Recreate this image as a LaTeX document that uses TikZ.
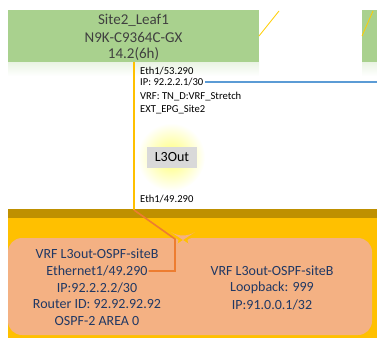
\documentclass[tikz,border=0pt]{standalone}
\usepackage{fontspec}
\setmainfont{Carlito}
\definecolor{leafgreen}{HTML}{A9D18E}
\definecolor{leaftext}{HTML}{404040}
\definecolor{gold}{HTML}{FFC000}
\definecolor{darkgold}{HTML}{BF9000}
\definecolor{salmon}{HTML}{F4B183}
\definecolor{navy}{HTML}{203864}
\definecolor{linkblue}{HTML}{5B9BD5}
\definecolor{linkorange}{HTML}{ED7D31}
\definecolor{boxgray}{HTML}{D9D9D9}
\begin{document}
\begin{tikzpicture}[x=1pt,y=-1pt,
  smalltxt/.style={anchor=west,inner sep=0pt,font=\fontsize{10.6}{12}\selectfont,text=black},
  bigtxt/.style={inner sep=0pt,font=\fontsize{14}{16}\selectfont,text=navy},
  leaftxt/.style={inner sep=0pt,font=\fontsize{15}{17}\selectfont,text=leaftext},
  goldline/.style={draw=gold,line width=1.8pt},
  diagline/.style={draw=gold!80!yellow,line width=0.8pt}]
\useasboundingbox (0,0) rectangle (377,338);
% reflections
\shade[top color=leafgreen!25,bottom color=white] (8,62) rectangle (259,76);
\shade[top color=leafgreen!25,bottom color=white] (362,62) rectangle (377,76);
% leaf boxes
\fill[leafgreen] (8,10) rectangle (259,62);
\fill[leafgreen] (362,10) rectangle (377,62);
\node[leaftxt] (leafname) at (133.5,20) {Site2\_Leaf1};
\node[leaftxt] (leafmodel) at (133.5,37) {N9K-C9364C-GX};
\node[leaftxt] (leafver) at (133.5,54) {14.2(6h)};
\coordinate (d1a) at (259,36); \coordinate (d1b) at (279,11);
\coordinate (d2a) at (362,36); \coordinate (d2b) at (373,11);
\draw[diagline] (d1a) -- (d1b);
\draw[diagline] (d2a) -- (d2b);
% background band
\fill[gold] (8,209) rectangle (377,338);
\fill[darkgold] (8,209) rectangle (377,218);
% salmon area (two merged rounded boxes)
\fill[salmon,rounded corners=14pt] (8,238) -- (8,335) -- (372,335) -- (372,238) -- (180,238) -- (183,240) -- (186,238) -- cycle;
% glow + L3Out
\shade[inner color=yellow!55,outer color=white] (171,157) circle (34);
\node[fill=boxgray,minimum width=50pt,minimum height=21pt,inner sep=0pt,font=\fontsize{14}{16}\selectfont] (l3out) at (172,157) {L3Out};
% vertical link
\coordinate (vtop) at (134,62);
\coordinate (vbot) at (134,210);
\draw[goldline] (vtop) -- (vbot);
% small texts
\node[smalltxt] (eth53) at (140,71) {Eth1/53.290};
\node[smalltxt] (ip1) at (140,82) {IP: 92.2.2.1/30};
\node[smalltxt] (vrf1) at (140,97) {VRF: TN\_D:VRF\_Stretch};
\node[smalltxt] (epg) at (140,110) {EXT\_EPG\_Site2};
\node[smalltxt] (eth49) at (140,199.5) {Eth1/49.290};
\coordinate (blueend) at (377,82);
\draw[linkblue,line width=1.2pt] ([xshift=1.5pt]ip1.east) -- (blueend);
% left salmon texts
\node[bigtxt] (vrfL) at (97,254) {VRF L3out-OSPF-siteB};
\node[bigtxt] (ethL) at (97,271) {Ethernet1/49.290};
\node[bigtxt] (ipL) at (97,288) {IP:92.2.2.2/30};
\node[bigtxt] (ridL) at (97,304.5) {Router ID: 92.92.92.92};
\node[bigtxt] (ospfL) at (97,321) {OSPF-2 AREA 0};
% right salmon texts
\node[bigtxt] (vrfR) at (272,271) {VRF L3out-OSPF-siteB};
\node[bigtxt] (loR) at (272,288) {Loopback: 999};
\node[bigtxt] (ipR) at (272,304.5) {IP:91.0.0.1/32};
% orange connector
\coordinate (ob1) at (175,239);
\draw[linkorange,line width=1.6pt] (vbot) -- (ob1) |- ([xshift=1pt]ethL.east);
\end{tikzpicture}
\end{document}
